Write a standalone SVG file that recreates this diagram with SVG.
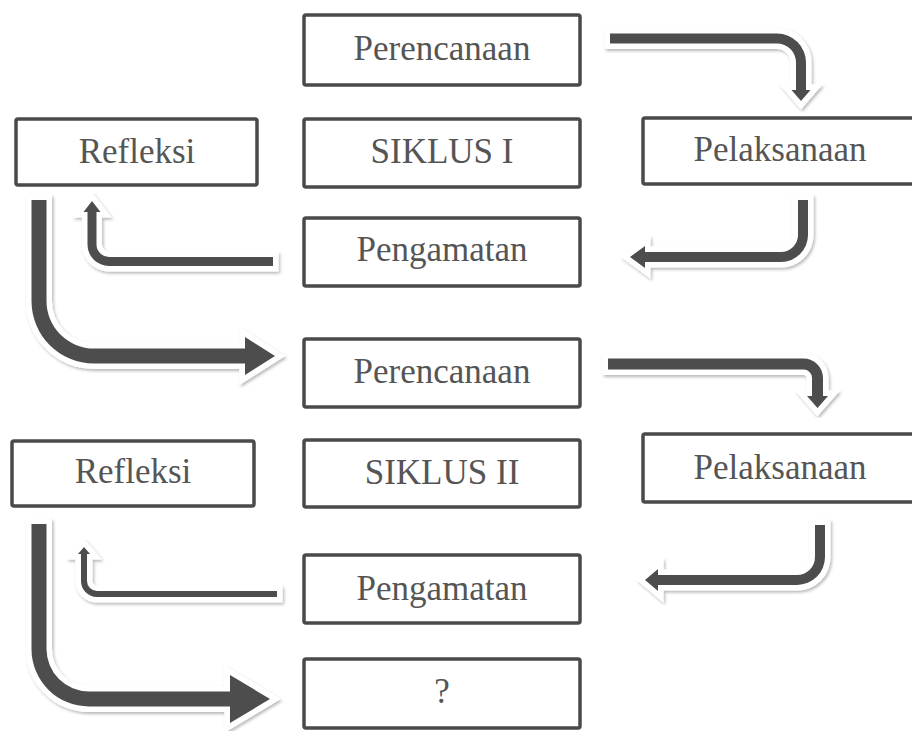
<svg xmlns="http://www.w3.org/2000/svg" xmlns:xlink="http://www.w3.org/1999/xlink" width="912" height="731" viewBox="0 0 912 731">
  <style>
    .box { fill: #ffffff; stroke: #4a4a4a; stroke-width: 3.5; }
    .lbl { font-family: "Liberation Serif", "Times New Roman", serif; font-size: 35px; fill: #555555; text-anchor: middle; }
    .halo { fill: #ffffff; stroke: #ffffff; stroke-width: 11; stroke-linejoin: miter; stroke-miterlimit: 3; filter: url(#shadow); }
    .arrow { fill: #4d4d4d; stroke: none; }
  </style>
  <defs>
    <filter id="shadow" x="-20%" y="-20%" width="140%" height="140%">
      <feDropShadow dx="1.5" dy="2" stdDeviation="1.8" flood-color="#000000" flood-opacity="0.28"/>
    </filter>
    <path id="arrA" d="M610,33.5 L777,33.5 A29,29 0 0 1 806,62.5 L806,90 L810.5,90 L801,101 L791.5,90 L796,90 L796,62.5 A19,19 0 0 0 777,43.5 L610,43.5 Z"/>
    <path id="arrB" d="M798,200 L808,200 L808,235 A27,27 0 0 1 781,262 L645,262 L645,268 L630,257 L645,246 L645,252 L781,252 A17,17 0 0 0 798,235 Z"/>
    <path id="arrC" d="M273,257 L109,257 A12.5,12.5 0 0 1 96.5,244.5 L96.5,212 L100.5,212 L92,201 L83.5,212 L87.5,212 L87.5,244.5 A21.5,21.5 0 0 0 109,266 L273,266 Z"/>
    <path id="arrD" d="M31.5,200 L46.5,200 L46.5,301 A47.5,47.5 0 0 0 94,348.5 L245,348.5 L245,337 L275,356 L245,375 L245,363.5 L94,363.5 A62.5,62.5 0 0 1 31.5,301 Z"/>
    <path id="arrE" d="M608,358.5 L803.5,358.5 A19.5,19.5 0 0 1 823,378 L823,396 L828,396 L817.5,408 L807,396 L812,396 L812,378 A8.5,8.5 0 0 0 803.5,369.5 L608,369.5 Z"/>
    <path id="arrF" d="M815,525 L825,525 L825,557 A28,28 0 0 1 797,585 L658,585 L658,591 L645,580 L658,569 L658,575 L797,575 A18,18 0 0 0 815,557 Z"/>
    <path id="arrG" d="M277,591 L97,591 A10,10 0 0 1 87,581 L87,554 L90,554 L84,547 L78,554 L81,554 L81,581 A16,16 0 0 0 97,597 L277,597 Z"/>
    <path id="arrH" d="M31.5,524 L46.5,524 L46.5,649 A42.5,42.5 0 0 0 89,691.5 L230,691.5 L230,675 L270,699 L230,723 L230,706.5 L89,706.5 A57.5,57.5 0 0 1 31.5,649 Z"/>
  </defs>

  <rect x="0" y="0" width="912" height="731" fill="#ffffff"/>

  <g id="connectors">
    <use xlink:href="#arrA" href="#arrA" class="halo"/>
    <use xlink:href="#arrB" href="#arrB" class="halo"/>
    <use xlink:href="#arrC" href="#arrC" class="halo"/>
    <use xlink:href="#arrD" href="#arrD" class="halo"/>
    <use xlink:href="#arrE" href="#arrE" class="halo"/>
    <use xlink:href="#arrF" href="#arrF" class="halo"/>
    <use xlink:href="#arrG" href="#arrG" class="halo"/>
    <use xlink:href="#arrH" href="#arrH" class="halo"/>
    <use xlink:href="#arrA" href="#arrA" class="arrow"/>
    <use xlink:href="#arrB" href="#arrB" class="arrow"/>
    <use xlink:href="#arrC" href="#arrC" class="arrow"/>
    <use xlink:href="#arrD" href="#arrD" class="arrow"/>
    <use xlink:href="#arrE" href="#arrE" class="arrow"/>
    <use xlink:href="#arrF" href="#arrF" class="arrow"/>
    <use xlink:href="#arrG" href="#arrG" class="arrow"/>
    <use xlink:href="#arrH" href="#arrH" class="arrow"/>
  </g>

  <g id="perencanaan1">
    <rect class="box" x="304" y="15" width="276" height="70" rx="2"/>
    <text class="lbl" x="442" y="60">Perencanaan</text>
  </g>
  <g id="siklus1">
    <rect class="box" x="304" y="119" width="276" height="68" rx="2"/>
    <text class="lbl" x="442" y="163">SIKLUS I</text>
  </g>
  <g id="refleksi1">
    <rect class="box" x="16" y="119" width="241" height="66" rx="2"/>
    <text class="lbl" x="137" y="163">Refleksi</text>
  </g>
  <g id="pelaksanaan1">
    <rect class="box" x="643" y="118" width="280" height="66" rx="2"/>
    <text class="lbl" x="780" y="161">Pelaksanaan</text>
  </g>
  <g id="pengamatan1">
    <rect class="box" x="304" y="218" width="276" height="68" rx="2"/>
    <text class="lbl" x="442" y="261">Pengamatan</text>
  </g>
  <g id="perencanaan2">
    <rect class="box" x="304" y="339" width="276" height="68" rx="2"/>
    <text class="lbl" x="442" y="383">Perencanaan</text>
  </g>
  <g id="siklus2">
    <rect class="box" x="304" y="440" width="276" height="67" rx="2"/>
    <text class="lbl" x="442" y="484">SIKLUS II</text>
  </g>
  <g id="refleksi2">
    <rect class="box" x="12" y="441" width="242" height="65" rx="2"/>
    <text class="lbl" x="133" y="483">Refleksi</text>
  </g>
  <g id="pelaksanaan2">
    <rect class="box" x="643" y="434" width="280" height="68" rx="2"/>
    <text class="lbl" x="780" y="479">Pelaksanaan</text>
  </g>
  <g id="pengamatan2">
    <rect class="box" x="304" y="555" width="276" height="68" rx="2"/>
    <text class="lbl" x="442" y="600">Pengamatan</text>
  </g>
  <g id="next">
    <rect class="box" x="304" y="659" width="276" height="69" rx="2"/>
    <text class="lbl" x="442" y="703">?</text>
  </g>
</svg>
